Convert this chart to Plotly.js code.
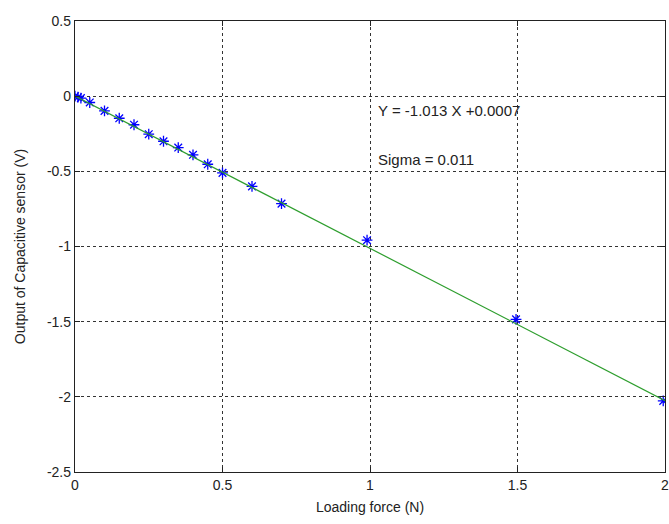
<!DOCTYPE html>
<html>
<head>
<meta charset="utf-8">
<script src="https://cdn.plot.ly/plotly-3.0.1.min.js"></script>
<style>html,body{margin:0;padding:0;background:#fff;}#chart{width:669px;height:524px;}</style>
</head>
<body>
<div id="chart"></div>
<script>
// Measured data
const forceN = [0, 0.01, 0.02, 0.05, 0.10, 0.15, 0.20, 0.25, 0.30, 0.35, 0.40, 0.45, 0.50, 0.60, 0.70, 0.99, 1.495, 1.994];
const outputV = [0, -0.007, -0.013, -0.042, -0.098, -0.147, -0.19, -0.253, -0.30, -0.342, -0.39, -0.453, -0.51, -0.60, -0.715, -0.958, -1.485, -2.027];
// Fit
const fitSlope = -1.013;
const fitIntercept = 0.0007;
const fitX = [0, 2];
const fitY = fitX.map(x => fitSlope * x + fitIntercept);
// Ticks
const xTickVals = [0, 0.5, 1, 1.5, 2];
const xTickText = ["0", "0.5", "1", "1.5", "2"];
const yTickVals = [0.5, 0, -0.5, -1, -1.5, -2, -2.5];
const yTickText = ["0.5", "0", "-0.5", "-1", "-1.5", "-2", "-2.5"];
const annText = ["Y = -1.013 X +0.0007", "Sigma = 0.011"];
const annX = [1.02, 1.02];
const annY = [-0.093, -0.42];

const font = {family: "Liberation Sans, Arial, sans-serif", size: 14, color: "#222"};

const traces = [
  {x: forceN, y: outputV, mode: "markers", type: "scatter",
   marker: {symbol: "asterisk-open", size: 9, color: "#0000ff", line: {color: "#0000ff", width: 1.3}},
   hoverinfo: "skip"},
  {x: fitX, y: fitY, mode: "lines", type: "scatter",
   line: {color: "#2e9e2e", width: 1.2}, hoverinfo: "skip"}
];

const axisCommon = {
  showline: true, mirror: "ticks", linecolor: "#222", linewidth: 1.2,
  showgrid: true, gridcolor: "#333", griddash: "3px,3px", gridwidth: 1,
  zeroline: false, ticks: "inside", ticklen: 5, tickcolor: "#222",
  tickfont: font, tickmode: "array", ticklabeloverflow: "allow", automargin: false
};

const layout = {
  width: 669, height: 524,
  margin: {l: 75, r: 4, t: 21, b: 52},
  paper_bgcolor: "#fff", plot_bgcolor: "#fff",
  showlegend: false,
  font: font,
  xaxis: Object.assign({}, axisCommon, {
    range: [0, 2], tickvals: xTickVals, ticktext: xTickText,
    title: {text: "Loading force (N)", font: font, standoff: 10}
  }),
  yaxis: Object.assign({}, axisCommon, {
    range: [-2.5, 0.5], tickvals: yTickVals, ticktext: yTickText,
    title: {text: "Output of Capacitive sensor (V)", font: font, standoff: 18}
  }),
  annotations: annText.map((t, i) => ({
    x: annX[i], y: annY[i], xref: "x", yref: "y", text: t, showarrow: false,
    xanchor: "left", yanchor: "middle", font: {family: font.family, size: 15, color: "#222"}
  }))
};

Plotly.newPlot("chart", traces, layout, {staticPlot: true, displayModeBar: false});
</script>
</body>
</html>
